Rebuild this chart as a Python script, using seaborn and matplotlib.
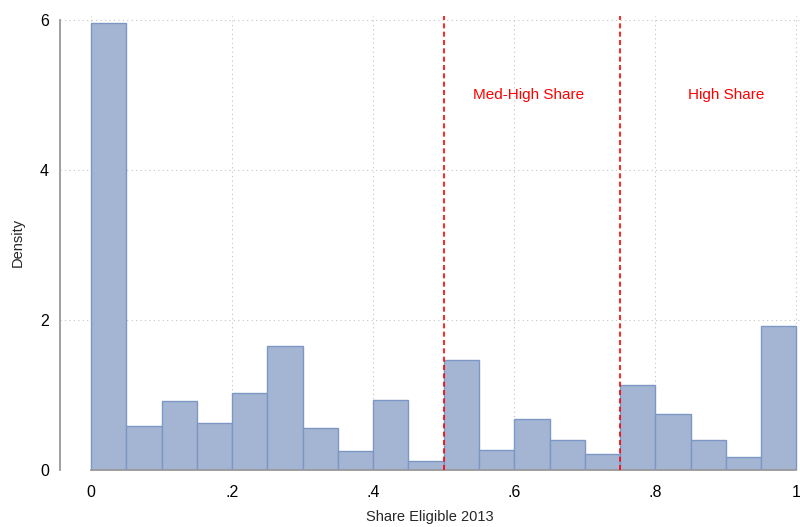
import numpy as np
import pandas as pd
import matplotlib
matplotlib.use("Agg")
import matplotlib.pyplot as plt
import seaborn as sns

# Histogram of share eligible in 2013 (density per 0.05-wide bin)
bin_edges = [round(0.05 * i, 2) for i in range(21)]
densities = [5.96, 0.58, 0.91, 0.62, 1.02, 1.65, 0.55, 0.25, 0.93, 0.11,
             1.46, 0.26, 0.68, 0.39, 0.21, 1.13, 0.74, 0.39, 0.17, 1.91]
x_ticks = [0, 0.2, 0.4, 0.6, 0.8, 1.0]
x_tick_labels = ["0", ".2", ".4", ".6", ".8", "1"]
y_ticks = [0, 2, 4, 6]
cutoffs = [0.5, 0.75]
region_labels = ["Med-High Share", "High Share"]
region_label_x = [0.62, 0.90]
region_label_y = 5.0

centers = [(a + b) / 2 for a, b in zip(bin_edges[:-1], bin_edges[1:])]
df = pd.DataFrame({"share": centers, "density": densities})

sns.set_style("white")
plt.rcParams["font.family"] = ["Liberation Sans", "DejaVu Sans"]

fig = plt.figure(figsize=(8.0, 5.27), dpi=100)
ax = fig.add_axes([60 / 800, 0.109, 740 / 800, 0.861])

grid_color = "#c4c4c4"
for yv in y_ticks:
    ax.axhline(yv, color=grid_color, lw=0.8, ls=(0, (1, 3)), zorder=0)
for xv in x_ticks:
    ax.axvline(xv, color=grid_color, lw=0.8, ls=(0, (1, 3)), zorder=0)

sns.histplot(data=df, x="share", weights="density", bins=bin_edges,
             stat="count", ax=ax, color="#a3b5d3", alpha=1.0,
             edgecolor="#7d97c4", linewidth=1.0, zorder=2)

for c in cutoffs:
    ax.axvline(c, color="#ff0000", lw=1.2, ls=(0, (3, 2)), zorder=3)
for lbl, lx in zip(region_labels, region_label_x):
    ax.text(lx, region_label_y, lbl, color="#ff0000", fontsize=11,
            ha="center", va="center")

ax.set_xlim(-0.044, 1.005)
ax.set_ylim(0, 6.05)
ax.set_xticks(x_ticks)
ax.set_xticklabels(x_tick_labels)
ax.set_yticks(y_ticks)
ax.set_yticklabels([str(v) for v in y_ticks])

spine_color = "#999999"
for s in ["top", "right"]:
    ax.spines[s].set_visible(False)
ax.spines["left"].set_color(spine_color)
ax.spines["bottom"].set_color(spine_color)
ax.spines["left"].set_linewidth(1.3)
ax.spines["bottom"].set_linewidth(1.3)
ax.spines["left"].set_bounds(0, 6)
ax.spines["bottom"].set_bounds(0, 1)
ax.tick_params(axis="both", colors=spine_color, length=5, width=1.3,
               labelcolor="black", labelsize=11.5)
ax.tick_params(axis="y", pad=3)
ax.tick_params(axis="x", pad=6)

ax.set_xlabel("Share Eligible 2013", fontsize=10.5, labelpad=7)
ax.set_ylabel("Density", fontsize=10.5, labelpad=11)

fig.savefig("out.png", dpi=100)
